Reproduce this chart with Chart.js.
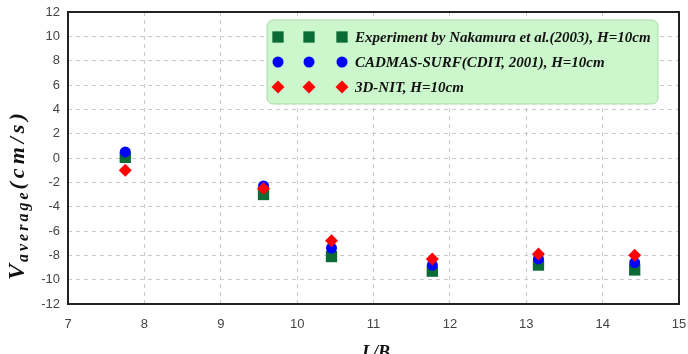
<!DOCTYPE html>
<html>
<head>
<meta charset="utf-8">
<script src="https://cdn.jsdelivr.net/npm/chart.js@4/dist/chart.umd.min.js"></script>
<style>
  html, body { margin: 0; padding: 0; background: #fff; }
  #wrap { width: 688px; height: 354px; position: relative; }
</style>
</head>
<body>
<div id="wrap"><canvas id="chart"></canvas></div>
<script>
// L/B positions of the six measurement stations
const ratioLB = [7.75, 9.56, 10.45, 11.77, 13.16, 14.42];
const experiment = [0.05, -3.0, -8.1, -9.3, -8.8, -9.2];
const cadmas = [0.5, -2.3, -7.4, -8.8, -8.3, -8.6];
const nit3d = [-1.0, -2.5, -6.8, -8.3, -7.9, -8.0];
const seriesLabels = [
  'Experiment by Nakamura et al.(2003), H=10cm',
  'CADMAS-SURF(CDIT, 2001), H=10cm',
  '3D-NIT, H=10cm'
];
const xTicks = [7, 8, 9, 10, 11, 12, 13, 14, 15];
const yTicks = [-12, -10, -8, -6, -4, -2, 0, 2, 4, 6, 8, 10, 12];

const green = '#0a6b35', blue = '#0000ff', red = '#ff0000';
const serif = "'Liberation Serif', 'DejaVu Serif', serif";

function pts(ys) { return ratioLB.map((x, i) => ({ x: x, y: ys[i] })); }

const frameAndLegend = {
  id: 'frameAndLegend',
  afterDraw(chart) {
    const ctx = chart.ctx, a = chart.chartArea;
    ctx.save();
    // plot frame
    ctx.strokeStyle = '#222';
    ctx.lineWidth = 2;
    ctx.strokeRect(a.left, a.top, a.right - a.left, a.bottom - a.top);

    // legend box
    const bx = 267, by = 20, bw = 391, bh = 84, r = 6;
    ctx.beginPath();
    ctx.moveTo(bx + r, by);
    ctx.arcTo(bx + bw, by, bx + bw, by + bh, r);
    ctx.arcTo(bx + bw, by + bh, bx, by + bh, r);
    ctx.arcTo(bx, by + bh, bx, by, r);
    ctx.arcTo(bx, by, bx + bw, by, r);
    ctx.closePath();
    ctx.fillStyle = '#ccf7cc';
    ctx.fill();
    ctx.strokeStyle = '#a9d9a9';
    ctx.lineWidth = 1;
    ctx.stroke();

    const styles = [
      { pointStyle: 'rect', radius: 8, color: green },
      { pointStyle: 'circle', radius: 5.5, color: blue },
      { pointStyle: 'rectRot', radius: 6.5, color: red }
    ];
    const rowsY = [37, 62, 87];
    const markX = [278, 309, 342];
    ctx.font = 'italic bold 15px ' + serif;
    ctx.textBaseline = 'middle';
    ctx.textAlign = 'left';
    styles.forEach((s, i) => {
      ctx.fillStyle = s.color;
      ctx.strokeStyle = s.color;
      markX.forEach(mx => {
        Chart.helpers.drawPoint(ctx, { pointStyle: s.pointStyle, radius: s.radius, rotation: 0, borderWidth: 0 }, mx, rowsY[i]);
      });
      ctx.fillStyle = '#111';
      ctx.fillText(seriesLabels[i], 355, rowsY[i] + 1);
    });

    // y axis title: V_average(cm/s)
    ctx.translate(24, 280);
    ctx.rotate(-Math.PI / 2);
    ctx.fillStyle = '#111';
    ctx.textBaseline = 'alphabetic';
    ctx.font = 'italic bold 24px ' + serif;
    ctx.fillText('V', 0, 0);
    let off = ctx.measureText('V').width + 2;
    ctx.font = 'italic bold 16px ' + serif;
    ctx.letterSpacing = '3px';
    ctx.fillText('average', off, 4);
    off += ctx.measureText('average').width;
    ctx.font = 'italic bold 22px ' + serif;
    ctx.letterSpacing = '4px';
    ctx.fillText('(cm/s)', off, 0);
    ctx.letterSpacing = '0px';
    ctx.restore();

    // x axis title
    ctx.save();
    ctx.font = 'italic bold 18px ' + serif;
    ctx.fillStyle = '#111';
    ctx.textAlign = 'center';
    ctx.textBaseline = 'alphabetic';
    ctx.fillText('L/B', 376, 358);
    ctx.restore();
  }
};

new Chart(document.getElementById('chart'), {
  type: 'scatter',
  data: {
    datasets: [
      { label: seriesLabels[0], data: pts(experiment), pointStyle: 'rect', pointRadius: 8, backgroundColor: green, borderColor: green, borderWidth: 0, order: 3 },
      { label: seriesLabels[1], data: pts(cadmas), pointStyle: 'circle', pointRadius: 5.5, backgroundColor: blue, borderColor: blue, borderWidth: 0, order: 2 },
      { label: seriesLabels[2], data: pts(nit3d), pointStyle: 'rectRot', pointRadius: 6.5, backgroundColor: red, borderColor: red, borderWidth: 0, order: 1 }
    ]
  },
  options: {
    responsive: true,
    maintainAspectRatio: false,
    animation: false,
    layout: { padding: { top: 12, right: 9, left: 0, bottom: 0 } },
    plugins: { legend: { display: false }, tooltip: { enabled: false } },
    scales: {
      x: {
        type: 'linear', min: 7, max: 15,
        afterBuildTicks: s => { s.ticks = xTicks.map(v => ({ value: v })); },
        afterFit: s => { s.height = 50; s.paddingLeft = 0; s.paddingRight = 0; },
        ticks: { color: '#444', font: { family: "'Liberation Sans', Arial, sans-serif", size: 13 }, padding: 13 },
        grid: { color: '#c8c8c8', drawTicks: false },
        border: { display: false, dash: [4, 4] }
      },
      y: {
        type: 'linear', min: -12, max: 12,
        afterBuildTicks: s => { s.ticks = yTicks.map(v => ({ value: v })); },
        afterFit: s => { s.width = 68; s.paddingTop = 0; s.paddingBottom = 0; },
        ticks: { color: '#444', font: { family: "'Liberation Sans', Arial, sans-serif", size: 13 }, padding: 8 },
        grid: { color: '#c8c8c8', drawTicks: false },
        border: { display: false, dash: [4, 4] }
      }
    }
  },
  plugins: [frameAndLegend]
});
</script>
</body>
</html>
